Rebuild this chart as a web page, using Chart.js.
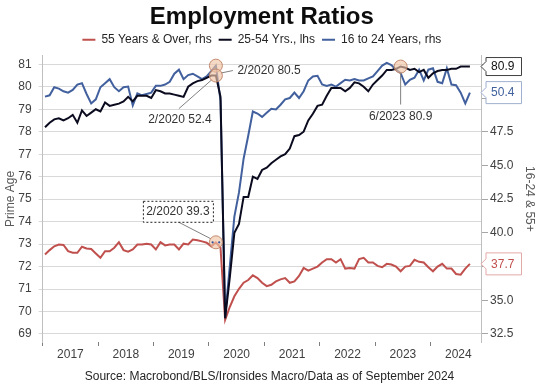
<!DOCTYPE html>
<html>
<head>
<meta charset="utf-8">
<script src="https://cdn.jsdelivr.net/npm/chart.js@4.4.1/dist/chart.umd.min.js"></script>
<style>
  html, body { margin: 0; padding: 0; background: #fff; }
  #wrap { width: 539px; height: 385px; }
</style>
</head>
<body>
<div id="wrap"><canvas id="chart"></canvas></div>
<script>
// Employment ratios: prime age (lhs) vs 16-24 and 55+ (rhs), monthly Jan 2017 - Sep 2024

const YEARS = ["2017", "2018", "2019", "2020", "2021", "2022", "2023", "2024"];
const LEFT_TICKS = [69, 70, 71, 72, 73, 74, 75, 76, 77, 78, 79, 80, 81];
const RIGHT_TICKS = [32.5, 35, 37.5, 40, 42.5, 45, 47.5, 50, 52.5];

// 25-54 Yrs. (lhs)
const prime = [
  78.2, 78.4, 78.55, 78.6, 78.5, 78.6, 78.75, 78.4, 78.95, 78.7, 78.85, 79.0,
  78.9, 79.3, 79.15, 79.2, 79.25, 79.35, 79.55, 79.35, 79.6, 79.6, 79.6, 79.5,
  79.85, 79.8, 79.7, 79.7, 79.65, 79.6, 79.55, 80.0, 80.15, 80.25, 80.3, 80.4,
  80.5, 80.5, 79.55, 69.7, 71.5, 73.5, 73.9, 75.1, 75.1, 76.0, 75.9, 76.3,
  76.4, 76.6, 76.75, 76.9, 77.0, 77.25, 77.8, 77.85, 78.0, 78.5, 78.8, 79.15,
  79.2, 79.6, 79.95, 79.95, 79.95, 79.8, 79.95, 80.2, 80.15, 80.0, 79.8, 80.1,
  80.3, 80.5, 80.75, 80.75, 80.8, 80.9, 80.85, 80.75, 80.8, 80.65, 80.75, 80.4,
  80.6, 80.7, 80.75, 80.75, 80.8, 80.8, 80.9, 80.9, 80.9
];

// 16 to 24 Years (rhs)
const youth = [
  50.1, 50.2, 50.8, 50.7, 50.5, 50.4, 50.6, 51.0, 51.1, 50.3, 49.6, 49.9,
  50.8, 51.1, 51.4, 50.8, 50.5, 50.8, 50.85, 49.45, 50.35, 50.2, 50.3, 50.4,
  50.9, 50.9, 51.0, 51.2, 51.8, 52.1, 51.4, 51.7, 51.8, 51.6, 51.4, 51.6,
  52.0, 52.4, 49.8, 33.8, 37.5, 41.2, 43.0, 45.5, 47.2, 49.0, 48.85, 48.6,
  48.9, 49.2, 49.15, 49.5, 49.9, 50.0, 50.4, 50.0, 50.5, 51.3, 51.6, 51.65,
  51.0, 50.9, 51.0, 50.85, 51.1, 51.35, 51.3, 51.4, 51.3, 51.3, 51.45, 51.6,
  52.0, 52.4, 52.6, 52.45, 52.1, 51.85, 51.0, 51.35, 51.5, 52.1, 51.3, 52.1,
  52.2, 51.2, 51.1, 52.2, 51.0, 50.95, 50.4, 49.6, 50.4
];

// 55 Years & Over (rhs)
const older = [
  38.4, 38.72, 39.0, 39.14, 39.1, 38.64, 38.52, 38.52, 38.97, 38.84, 38.8, 38.47,
  38.15, 38.64, 38.64, 38.9, 39.31, 38.72, 38.6, 38.77, 39.14, 39.14, 39.2, 39.14,
  38.77, 39.31, 39.07, 39.14, 39.14, 38.77, 39.2, 39.14, 39.5, 39.45, 39.37, 39.27,
  39.0, 39.3, 38.9, 33.55, 34.5, 35.3, 35.85, 36.3, 36.5, 36.85, 36.65, 36.3,
  36.05, 36.15, 36.4, 36.55, 36.65, 36.3, 36.4, 36.8, 37.4, 37.2, 37.35, 37.5,
  37.8, 38.05, 38.05, 37.8, 38.05, 37.35, 37.4, 37.35, 38.05, 38.15, 37.8, 37.8,
  37.55, 37.45, 37.7, 37.65, 37.5, 37.15, 37.5, 37.55, 38.0, 37.85, 37.8, 37.45,
  37.15, 37.5, 37.7, 37.35, 37.35, 36.95, 36.9, 37.35, 37.7
];

// month slot i is plotted mid-month: x = i + 0.5 months after Jan 2017
const months = prime.map((_, i) => i + 0.5);

const C_PRIME = "#0b0b1f";
const C_YOUTH = "#41609d";
const C_OLDER = "#c0504d";
const LEGEND_ORDER = ["55 Years & Over, rhs", "25-54 Yrs., lhs", "16 to 24 Years, rhs"];

// rhs is tied to lhs: 69..81 on the left lines up with 32.5..52.5 on the right
const toRight = (v) => 32.5 + (v - 69) * 5 / 3;
const L_MIN = 68.644, L_MAX = 81.378;

Chart.defaults.font.family = "'Liberation Sans', Arial, sans-serif";
Chart.defaults.font.size = 12;
Chart.defaults.color = "#404040";

function series(label, data, color, axis) {
  return {
    label, yAxisID: axis,
    data: data.map((v, i) => ({ x: months[i], y: v })),
    borderColor: color, backgroundColor: color,
    borderWidth: 2, pointRadius: 0, tension: 0
  };
}

function spot(ctx, cx, cy) {
  ctx.beginPath();
  ctx.arc(cx, cy, 6.5, 0, Math.PI * 2);
  ctx.fillStyle = "rgba(240,196,166,0.65)";
  ctx.fill();
  ctx.strokeStyle = "rgba(190,130,100,0.9)";
  ctx.lineWidth = 1;
  ctx.stroke();
}

function leader(ctx, x1, y1, x2, y2) {
  ctx.beginPath();
  ctx.moveTo(x1, y1); ctx.lineTo(x2, y2);
  ctx.strokeStyle = "#808080"; ctx.lineWidth = 1;
  ctx.stroke();
}

function note(ctx, text, x, y, align) {
  ctx.font = "12px 'Liberation Sans', Arial, sans-serif";
  ctx.fillStyle = "#333";
  ctx.textAlign = align || "left";
  ctx.textBaseline = "middle";
  ctx.fillText(text, x, y);
}

function valueTag(ctx, x0, yv, text, stroke, color, h) {
  const l = x0 + 5, r = x0 + 40.5, t = yv - h / 2, b = yv + h / 2;
  ctx.beginPath();
  ctx.moveTo(x0, yv);
  ctx.lineTo(l, yv - 5); ctx.lineTo(l, t); ctx.lineTo(r, t);
  ctx.lineTo(r, b); ctx.lineTo(l, b); ctx.lineTo(l, yv + 5);
  ctx.closePath();
  ctx.fillStyle = "#fff"; ctx.fill();
  ctx.strokeStyle = stroke; ctx.lineWidth = 1; ctx.stroke();
  ctx.font = "12px 'Liberation Sans', Arial, sans-serif";
  ctx.fillStyle = color;
  ctx.textAlign = "center"; ctx.textBaseline = "middle";
  ctx.fillText(text, (l + r) / 2 - 1, yv + 0.5);
}

const callouts = {
  id: "callouts",
  afterDatasetsDraw(chart) {
    const { ctx, chartArea, scales: { x, y, y1 } } = chart;
    ctx.save();

    // Feb 2020 peaks
    const fx = x.getPixelForValue(months[37]);
    const pY = y.getPixelForValue(prime[37]);
    const yY = y1.getPixelForValue(youth[37]);
    leader(ctx, fx + 5, pY - 2.5, fx + 17, pY - 5);
    leader(ctx, fx - 37, yY + 43, fx - 4, yY + 14);
    spot(ctx, fx, yY);
    spot(ctx, fx, pY);
    note(ctx, "2/2020 " + prime[37].toFixed(1), fx + 21.5, pY - 5);
    note(ctx, "2/2020 " + youth[37].toFixed(1), fx - 36, yY + 54.5, "center");

    // Feb 2020, 55+
    const oY = y1.getPixelForValue(older[37]);
    const bx = fx - 38, by = oY - 31;
    leader(ctx, bx, by + 10.5, fx - 5, oY - 3.5);
    ctx.save();
    ctx.setLineDash([2, 2]);
    ctx.strokeStyle = "#222"; ctx.lineWidth = 1;
    ctx.fillStyle = "#fff";
    ctx.fillRect(bx - 35, by - 10.5, 70, 21);
    ctx.strokeRect(bx - 35 + 0.5, by - 10.5 + 0.5, 70, 21);
    ctx.restore();
    note(ctx, "2/2020 " + older[37].toFixed(1), bx, by + 0.5, "center");
    spot(ctx, fx, oY);
    ctx.fillStyle = "#2c4f9a";
    [-3.3, 3.3].forEach(d => { ctx.beginPath(); ctx.arc(fx + d, oY, 1.1, 0, Math.PI * 2); ctx.fill(); });

    // Jun 2023 prime-age high
    const jx = x.getPixelForValue(months[77]);
    const jY = y.getPixelForValue(prime[77]);
    leader(ctx, jx, jY + 6.5, jx, jY + 38);
    spot(ctx, jx, jY);
    note(ctx, "6/2023 " + prime[77].toFixed(1), jx, jY + 50.5, "center");

    // latest values on the right axis
    const last = prime.length - 1;
    const ax = chartArea.right;
    valueTag(ctx, ax, y.getPixelForValue(prime[last]), prime[last].toFixed(1), "#404040", "#111", 18);
    valueTag(ctx, ax, y1.getPixelForValue(youth[last]), youth[last].toFixed(1), "#9fb0d0", C_YOUTH, 22);
    valueTag(ctx, ax, y1.getPixelForValue(older[last]), older[last].toFixed(1), "#e3a9a7", C_OLDER, 22);

    ctx.restore();
  }
};

new Chart(document.getElementById("chart"), {
  type: "line",
  data: {
    datasets: [
      series("25-54 Yrs., lhs", prime, C_PRIME, "y"),
      series("16 to 24 Years, rhs", youth, C_YOUTH, "y1"),
      series("55 Years & Over, rhs", older, C_OLDER, "y1")
    ]
  },
  options: {
    responsive: true, maintainAspectRatio: false, animation: false,
    layout: { padding: 0 },
    plugins: {
      title: {
        display: true, text: "Employment Ratios", color: "#0d0d0d", fullSize: false,
        font: { size: 24, weight: "bold" }, padding: { top: 3, bottom: -5 }
      },
      legend: {
        position: "top", fullSize: false,
        labels: {
          sort: (a, b) => LEGEND_ORDER.indexOf(a.text) - LEGEND_ORDER.indexOf(b.text),
          usePointStyle: true, pointStyle: "line", pointStyleWidth: 13,
          padding: 7, color: "#262626", font: { size: 12 }
        }
      },
      subtitle: {
        display: true, position: "bottom", color: "#262626",
        text: "Source: Macrobond/BLS/Ironsides Macro/Data as of September 2024",
        font: { size: 12 }, padding: { top: 7.6, bottom: 0.8 }
      },
      tooltip: { enabled: false }
    },
    scales: {
      x: {
        type: "linear", min: 0, max: 94.9,
        afterBuildTicks: (s) => { s.ticks = YEARS.map((_, k) => ({ value: k * 12 })); },
        ticks: {
          callback: (v, i) => YEARS[i], labelOffset: 27.7,
          autoSkip: false, maxRotation: 0, padding: 1.8, color: "#404040"
        },
        grid: { drawOnChartArea: false, tickLength: 4, color: "#808080" },
        border: { display: false },
        afterFit: (s) => { s.height = 20.2; }
      },
      y: {
        position: "left", min: L_MIN, max: L_MAX,
        afterBuildTicks: (s) => { s.ticks = LEFT_TICKS.map(v => ({ value: v })); },
        ticks: { padding: 7, color: "#404040" },
        grid: { color: "#d9d9d9", tickLength: 4 },
        border: { color: "#bfbfbf" },
        title: {
          display: true, text: "Prime Age", color: "#595959",
          font: { size: 12 }, padding: { top: 3.6, bottom: 0 }
        },
        afterFit: (s) => { s.width = 42.7; }
      },
      y1: {
        position: "right", min: toRight(L_MIN), max: toRight(L_MAX),
        afterBuildTicks: (s) => { s.ticks = RIGHT_TICKS.map(v => ({ value: v })); },
        ticks: { padding: 2, color: "#404040", callback: (v) => v.toFixed(1) },
        grid: { drawOnChartArea: false, tickLength: 7, color: "#a6a6a6" },
        border: { color: "#bfbfbf" },
        title: {
          display: true, text: "16-24 & 55+", color: "#595959",
          font: { size: 12 }, padding: { top: 2.1, bottom: 0 }
        },
        afterFit: (s) => { s.width = 58; }
      }
    }
  },
  plugins: [callouts]
});
</script>
</body>
</html>
